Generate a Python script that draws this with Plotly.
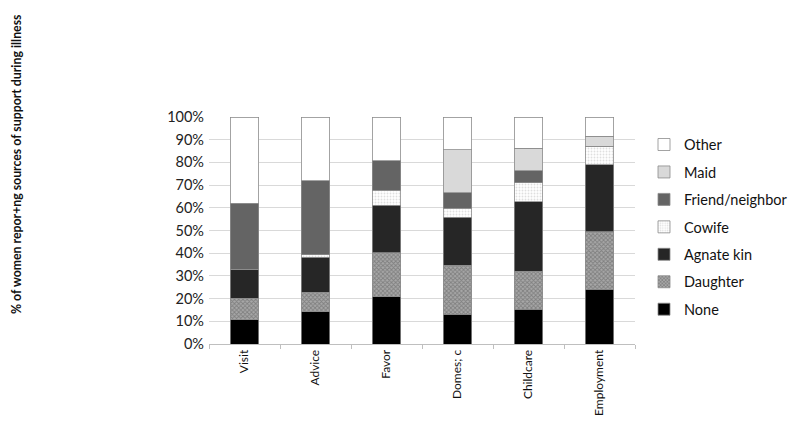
import plotly.graph_objects as go

# support type categories (x axis)
activities = ['Visit', 'Advice', 'Favor', 'Domes; c', 'Childcare', 'Employment']

# share of women per source (fractions)
none_vals     = [0.107, 0.141, 0.209, 0.132, 0.153, 0.242]
daughter_vals = [0.094, 0.087, 0.192, 0.215, 0.167, 0.253]
agnate_vals   = [0.129, 0.154, 0.211, 0.211, 0.307, 0.295]
cowife_vals   = [0.000, 0.012, 0.066, 0.040, 0.084, 0.082]
friend_vals   = [0.291, 0.326, 0.130, 0.069, 0.053, 0.000]
maid_vals     = [0.000, 0.000, 0.000, 0.189, 0.099, 0.043]
other_vals    = [0.379, 0.280, 0.192, 0.144, 0.137, 0.085]

y_title = '% of women repor+ng sources of support during illness'

FONT = 'Lato'
outline = dict(color='#8c8c8c', width=0.8)

series = [
    ('None', none_vals, dict(color='#000000')),
    ('Daughter', daughter_vals, dict(color='#999999',
        pattern=dict(shape='x', fgcolor='#555555', bgcolor='#a8a8a8', size=3, solidity=0.5))),
    ('Agnate kin', agnate_vals, dict(color='#262626')),
    ('Cowife', cowife_vals, dict(color='#ffffff',
        pattern=dict(shape='.', fgcolor='#c0c0c0', bgcolor='#ffffff', size=3, solidity=0.3))),
    ('Friend/neighbor', friend_vals, dict(color='#646464')),
    ('Maid', maid_vals, dict(color='#d9d9d9')),
    ('Other', other_vals, dict(color='#ffffff')),
]

fig = go.Figure()
n = len(series)
for i, (name, vals, mk) in enumerate(series):
    mk = dict(mk, line=outline)
    fig.add_trace(go.Bar(x=activities, y=vals, name=name, marker=mk,
                         legendgroup=name, legendrank=n - i, width=0.4))

# page body has an 8px margin, so the figure is offset; compensate in margins
fig.update_layout(
    width=800, height=421,
    barmode='stack',
    plot_bgcolor='white', paper_bgcolor='white',
    margin=dict(l=201, r=173, t=109, b=85),
    font=dict(family=FONT, size=13, color='#222222'),
    showlegend=True,
    legend=dict(traceorder='grouped', xref='container', x=0.795, xanchor='left',
                y=0.949, yanchor='top',
                tracegroupgap=5.6, font=dict(size=14.5, color='#111111')),
    annotations=[dict(text=y_title, textangle=-90, xref='paper', yref='paper',
                      x=-0.452, y=0.795, showarrow=False, xanchor='center', yanchor='middle',
                      font=dict(family=FONT, size=12.3, color='#111111', weight='bold'))],
)
fig.update_yaxes(range=[0, 1], dtick=0.1, tickformat='.0%', showgrid=True, gridcolor='#d9d9d9',
                 gridwidth=1, zeroline=False, showline=False, ticks='', ticklabelstandoff=4,
                 automargin=False, tickfont=dict(size=14.5, color='#222222'))
fig.update_xaxes(showline=True, linecolor='#bfbfbf', tickangle=-90, ticks='outside',
                 tickson='boundaries', ticklen=4, tickcolor='#bfbfbf', automargin=False,
                 tickfont=dict(size=12, color='#111111'))

fig.write_html('out.html')
